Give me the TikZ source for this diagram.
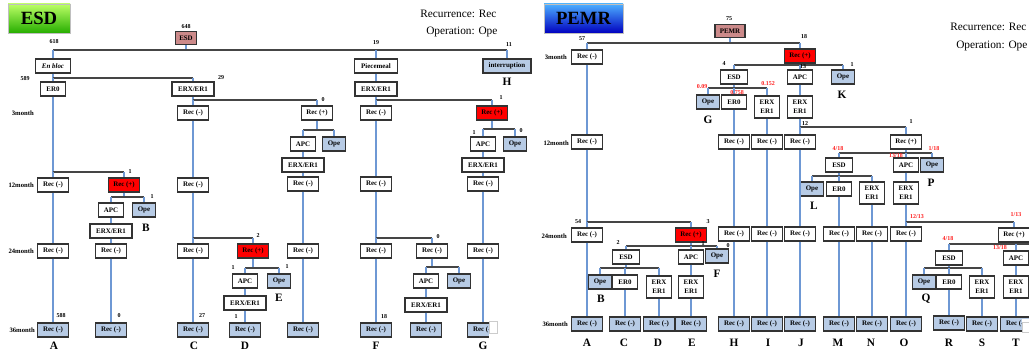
\documentclass[tikz,border=0pt]{standalone}
\usepackage{fontspec}
\setmainfont{Liberation Serif}
\usetikzlibrary{shadows}
\definecolor{hline}{HTML}{454545}
\definecolor{vline}{HTML}{6E98D4}
\definecolor{opeblue}{HTML}{B7CBE5}
\definecolor{pinkbox}{HTML}{CC8A8A}
\definecolor{boxdraw}{HTML}{333333}
\definecolor{numred}{HTML}{FF2020}
\newcommand{\vc}[2]{\draw[vl] (#1.south) -- (#2.north);}
\newcommand{\fk}[4]{\draw[vl] (#1.south) -- (#1 |- 0,#2); \draw[hl] (#3 |- 0,#2) -- (#4 |- 0,#2);}
\newcommand{\dr}[2]{\draw[vl] (#1 |- 0,#2) -- (#1.north);}
\begin{document}
\begin{tikzpicture}[x=0.75pt,y=-0.75pt,
 box/.style={draw=boxdraw, line width=0.8pt, fill=white, font=\bfseries\fontsize{5.2}{6}\selectfont, minimum height=10.5pt, inner xsep=0pt, inner ysep=0pt},
 rec/.style={box, minimum width=23pt},
 recb/.style={rec, fill=opeblue},
 recr/.style={rec, fill=red},
 apc/.style={box, minimum width=19pt},
 ope/.style={box, minimum width=17pt, fill=opeblue},
 erx/.style={box, minimum width=31.5pt},
 ertwo/.style={box, minimum width=19pt, minimum height=16.5pt, align=center, font=\bfseries\fontsize{5.2}{6.5}\selectfont},
 erzero/.style={box, minimum width=19pt},
 esdb/.style={box, minimum width=20pt},
 pinkb/.style={box, fill=pinkbox, minimum width=16pt, minimum height=10pt},
 num/.style={font=\bfseries\fontsize{4.5}{5}\selectfont, inner sep=0pt},
 rnum/.style={num, text=numred},
 lett/.style={font=\bfseries\fontsize{8.5}{9}\selectfont, inner sep=0pt},
 rowlab/.style={font=\bfseries\fontsize{5}{6}\selectfont, anchor=east, inner sep=0pt},
 legend/.style={font=\fontsize{8.5}{10}\selectfont, anchor=west, inner sep=0pt},
 hl/.style={draw=hline, line width=1.1pt},
 vl/.style={draw=vline, line width=0.8pt},
 title/.style={draw=black!25, line width=0.5pt, font=\bfseries\fontsize{14}{14}\selectfont, minimum height=21.75pt, drop shadow={shadow xshift=1pt, shadow yshift=-1pt, opacity=0.35}}
]
\useasboundingbox (0,0) rectangle (1029,352);
\fill[white] (0,0) rectangle (1029,352);

% ================= ESD =================
\node[title, top color=green!25!lime!60!white, bottom color=green!60!black!80!lime, minimum width=46.5pt] (tesd) at (39,18.5) {ESD};
\node[legend] (lrec1) at (420,14) {Recurrence: Rec};
\node[legend] (lope1) at (426,32) {Operation: Ope};

\node[pinkb] (esd) at (186,38) {ESD};
\node[box, minimum width=26pt, font=\bfseries\itshape\fontsize{5.2}{6}\selectfont] (enbloc) at (53,66) {En bloc};
\node[box, minimum width=32pt] (piece) at (376,66) {Piecemeal};
\node[box, minimum width=36pt, fill=opeblue] (intr) at (507,66) {interruption};
\node[erzero] (er0) at (53,89) {ER0};
\node[erx] (erxL) at (193,89) {ERX/ER1};
\node[erx] (erxP) at (376,89) {ERX/ER1};
% 3 month
\node[rec] (c3) at (193,113) {Rec (-)};
\node[rec] (e3) at (317,113) {Rec (+)};
\node[rec] (f3) at (376,113) {Rec (-)};
\node[recr] (g3) at (492,113) {Rec (+)};
\node[apc] (e3apc) at (303,144) {APC};
\node[ope] (e3ope) at (334,144) {Ope};
\node[erx] (e3erx) at (303,165) {ERX/ER1};
\node[apc] (g3apc) at (483,144) {APC};
\node[ope] (g3ope) at (515,144) {Ope};
\node[erx] (g3erx) at (483,165) {ERX/ER1};
% 12 month
\node[rec] (a12) at (53,185) {Rec (-)};
\node[recr] (b12) at (124,185) {Rec (+)};
\node[rec] (c12) at (193,185) {Rec (-)};
\node[rec] (e12) at (303,184) {Rec (-)};
\node[rec] (f12) at (376,184) {Rec (-)};
\node[rec] (g12) at (483,184) {Rec (-)};
\node[apc] (b12apc) at (111,210) {APC};
\node[ope] (b12ope) at (144,210) {Ope};
\node[erx] (b12erx) at (111,231) {ERX/ER1};
% 24 month
\node[rec] (a24) at (53,251) {Rec (-)};
\node[rec] (b24) at (111,251) {Rec (-)};
\node[rec] (c24) at (193,251) {Rec (-)};
\node[recr] (d24) at (253,251) {Rec (+)};
\node[rec] (e24) at (303,251) {Rec (-)};
\node[rec] (f24) at (376,251) {Rec (-)};
\node[rec] (f24b) at (432,251) {Rec (-)};
\node[rec] (g24) at (483,251) {Rec (-)};
\node[apc] (d24apc) at (245,281) {APC};
\node[ope] (d24ope) at (279,281) {Ope};
\node[erx] (d24erx) at (245,303) {ERX/ER1};
\node[apc] (f24apc) at (426,281) {APC};
\node[ope] (f24ope) at (459,281) {Ope};
\node[erx] (f24erx) at (426,305) {ERX/ER1};
% 36 month
\node[recb] (a36) at (53,330) {Rec (-)};
\node[recb] (b36) at (111,330) {Rec (-)};
\node[recb] (c36) at (193,330) {Rec (-)};
\node[recb] (d36) at (245,330) {Rec (-)};
\node[recb] (e36) at (303,330) {Rec (-)};
\node[recb] (f36) at (376,330) {Rec (-)};
\node[recb] (f36b) at (426,330) {Rec (-)};
\node[recb] (g36) at (483,330) {Rec (-)};

% connectors ESD
\fk{esd}{50}{enbloc}{intr} \dr{enbloc}{50} \dr{piece}{50} \dr{intr}{50}
\fk{enbloc}{78}{er0}{erxL} \dr{er0}{78} \dr{erxL}{78}
\vc{piece}{erxP}
\fk{erxL}{100}{c3}{e3} \dr{c3}{100} \dr{e3}{100}
\fk{erxP}{100}{f3}{g3} \dr{f3}{100} \dr{g3}{100}
\fk{e3}{130}{e3apc}{e3ope} \dr{e3apc}{130} \dr{e3ope}{130}
\vc{e3apc}{e3erx} \vc{e3erx}{e12} \vc{e12}{e24} \vc{e24}{e36}
\fk{g3}{129}{g3apc}{g3ope} \dr{g3apc}{129} \dr{g3ope}{129}
\vc{g3apc}{g3erx} \vc{g3erx}{g12} \vc{g12}{g24} \vc{g24}{g36}
\fk{er0}{172}{a12}{b12} \dr{a12}{172} \dr{b12}{172}
\vc{a12}{a24} \vc{a24}{a36}
\fk{b12}{197}{b12apc}{b12ope} \dr{b12apc}{197} \dr{b12ope}{197}
\vc{b12apc}{b12erx} \vc{b12erx}{b24} \vc{b24}{b36}
\vc{c3}{c12}
\fk{c12}{238}{c24}{d24} \dr{c24}{238} \dr{d24}{238}
\vc{c24}{c36}
\fk{d24}{268}{d24apc}{d24ope} \dr{d24apc}{268} \dr{d24ope}{268}
\vc{d24apc}{d24erx} \vc{d24erx}{d36}
\vc{f3}{f12}
\fk{f12}{238}{f24}{f24b} \dr{f24}{238} \dr{f24b}{238}
\vc{f24}{f36}
\fk{f24b}{267}{f24apc}{f24ope} \dr{f24apc}{267} \dr{f24ope}{267}
\vc{f24apc}{f24erx} \vc{f24erx}{f36b}

% row labels ESD
\node[rowlab] (r1) at (34,113) {3month};
\node[rowlab] (r2) at (34,185) {12month};
\node[rowlab] (r3) at (34,251) {24month};
\node[rowlab] (r4) at (35,330) {36month};
% numbers ESD
\node[num] at (186,27) {648};
\node[num] at (54,42) {618};
\node[num] at (376,43) {19};
\node[num] at (509,45) {11};
\node[num] at (25,79) {589};
\node[num] at (221,78) {29};
\node[num] at (323,100) {0};
\node[num] at (501,98) {1};
\node[num] at (130,172) {1};
\node[num] at (152,197) {1};
\node[num] at (474,133) {1};
\node[num] at (521,131) {0};
\node[num] at (258,236) {2};
\node[num] at (438,237) {0};
\node[num] at (233,268) {1};
\node[num] at (287,267) {1};
\node[num] at (61,316) {588};
\node[num] at (119,316) {0};
\node[num] at (202,316) {27};
\node[num] at (236,317) {1};
\node[num] at (384,317) {18};
% letters ESD
\node[lett] at (54,346) {A};
\node[lett] at (146,228) {B};
\node[lett] at (194,346) {C};
\node[lett] at (245,346) {D};
\node[lett] at (279,298) {E};
\node[lett] at (376,346) {F};
\node[lett] at (483,346) {G};
\node[lett] at (507,82) {H};
% artifact
\fill[white] (489,319) rectangle (502,339);
\draw[black!20, fill=white, line width=0.5pt] (489.5,321) rectangle (497,333);

% ================= PEMR =================
\node[title, top color=blue!45!cyan!70!white, bottom color=blue!75!black, minimum width=59.25pt] (tpemr) at (583.5,18.5) {PEMR};
\node[legend] (lrec2) at (950,27) {Recurrence: Rec};
\node[legend] (lope2) at (956,46) {Operation: Ope};

\node[pinkb, minimum width=22.5pt] (pemr) at (730,31) {PEMR};
\node[rec] (pA3) at (587,57) {Rec (-)};
\node[recr] (p3r) at (800,56) {Rec (+)};
\node[esdb] (p3esd) at (734,77) {ESD};
\node[apc] (p3apc) at (800,77) {APC};
\node[ope] (p3ope) at (843,77) {Ope};
\node[ope] (pGope) at (708,102) {Ope};
\node[erzero] (pH0) at (734,102) {ER0};
\node[ertwo] (pIerx) at (767,107) {ERX\\ER1};
\node[ertwo] (pJerx) at (800,107) {ERX\\ER1};
% 12 month
\node[rec] (pA12) at (587,142) {Rec (-)};
\node[rec] (pH12) at (734,142) {Rec (-)};
\node[rec] (pI12) at (767,142) {Rec (-)};
\node[rec] (pJ12) at (800,142) {Rec (-)};
\node[rec] (pR12) at (906,142) {Rec (+)};
\node[esdb] (pPesd) at (839,165) {ESD};
\node[apc] (pPapc) at (906,165) {APC};
\node[ope] (pPope) at (932,165) {Ope};
\node[ope] (pLope) at (812,189) {Ope};
\node[erzero] (pM0) at (839,189) {ER0};
\node[ertwo] (pNerx) at (872,193) {ERX\\ER1};
\node[ertwo] (pOerx) at (906,193) {ERX\\ER1};
% 24 month
\node[rec] (pA24) at (587,235) {Rec (-)};
\node[recr] (pE24) at (691,235) {Rec (+)};
\node[rec] (pH24) at (734,234) {Rec (-)};
\node[rec] (pI24) at (767,234) {Rec (-)};
\node[rec] (pJ24) at (800,234) {Rec (-)};
\node[rec] (pM24) at (839,234) {Rec (-)};
\node[rec] (pN24) at (872,234) {Rec (-)};
\node[rec] (pO24) at (906,234) {Rec (-)};
\node[rec] (pT24) at (1014,235) {Rec (+)};
\node[esdb] (pBesd) at (626,257) {ESD};
\node[apc] (pEapc) at (691,257) {APC};
\node[ope] (pFope) at (717,256) {Ope};
\node[ope] (pBope) at (600,282) {Ope};
\node[erzero] (pC0) at (625,282) {ER0};
\node[ertwo] (pDerx) at (659,287) {ERX\\ER1};
\node[ertwo] (pEerx) at (691,287) {ERX\\ER1};
\node[esdb] (pQesd) at (949,258) {ESD};
\node[apc] (pTapc) at (1016,258) {APC};
\node[ope] (pQope) at (924,282) {Ope};
\node[erzero] (pR0) at (949,282) {ER0};
\node[ertwo] (pSerx) at (982,287) {ERX\\ER1};
\node[ertwo] (pTerx) at (1016,287) {ERX\\ER1};
% 36 month
\node[recb] (pA36) at (587,324) {Rec (-)};
\node[recb] (pC36) at (625,324) {Rec (-)};
\node[recb] (pD36) at (659,324) {Rec (-)};
\node[recb] (pE36) at (691,324) {Rec (-)};
\node[recb] (pH36) at (734,324) {Rec (-)};
\node[recb] (pI36) at (767,324) {Rec (-)};
\node[recb] (pJ36) at (800,324) {Rec (-)};
\node[recb] (pM36) at (839,324) {Rec (-)};
\node[recb] (pN36) at (872,324) {Rec (-)};
\node[recb] (pO36) at (906,324) {Rec (-)};
\node[recb] (pR36) at (949,323) {Rec (-)};
\node[recb] (pS36) at (982,324) {Rec (-)};
\node[recb] (pT36) at (1016,324) {Rec (-)};
\coordinate (edgeR) at (1035,244);

% connectors PEMR
\fk{pemr}{43}{pA3}{p3r} \dr{pA3}{43} \dr{p3r}{43}
\vc{pA3}{pA12}
\fk{pA12}{222}{pA24}{pE24} \dr{pA24}{222} \dr{pE24}{222}
\vc{pA24}{pA36}
\fk{pE24}{246}{pBesd}{pFope} \dr{pBesd}{246} \dr{pEapc}{246} \dr{pFope}{246}
\fk{pBesd}{268}{pBope}{pDerx} \dr{pBope}{268} \dr{pC0}{268} \dr{pDerx}{268}
\vc{pC0}{pC36} \vc{pDerx}{pD36} \vc{pEapc}{pEerx} \vc{pEerx}{pE36}
\fk{p3r}{65}{p3esd}{p3ope} \dr{p3esd}{65} \dr{p3apc}{65} \dr{p3ope}{65}
\fk{p3esd}{88}{pGope}{pIerx} \dr{pGope}{88} \dr{pH0}{88} \dr{pIerx}{88}
\vc{pH0}{pH12} \vc{pH12}{pH24} \vc{pH24}{pH36}
\vc{pIerx}{pI12} \vc{pI12}{pI24} \vc{pI24}{pI36}
\vc{p3apc}{pJerx}
\fk{pJerx}{127}{pJ12}{pR12} \dr{pJ12}{127} \dr{pR12}{127}
\vc{pJ12}{pJ24} \vc{pJ24}{pJ36}
\fk{pR12}{153}{pPesd}{pPope} \dr{pPesd}{153} \dr{pPapc}{153} \dr{pPope}{153}
\fk{pPesd}{176}{pLope}{pNerx} \dr{pLope}{176} \dr{pM0}{176} \dr{pNerx}{176}
\vc{pM0}{pM24} \vc{pM24}{pM36} \vc{pNerx}{pN24} \vc{pN24}{pN36}
\vc{pPapc}{pOerx}
\fk{pOerx}{222}{pO24}{pT24} \dr{pO24}{222} \dr{pT24}{222}
\vc{pO24}{pO36}
\fk{pT24}{244}{pQesd}{edgeR} \dr{pQesd}{244} \dr{pTapc}{244}
\fk{pQesd}{268}{pQope}{pSerx} \dr{pQope}{268} \dr{pR0}{268} \dr{pSerx}{268}
\vc{pR0}{pR36} \vc{pSerx}{pS36} \vc{pTapc}{pTerx} \vc{pTerx}{pT36}

% row labels PEMR
\node[rowlab] (q1) at (567,57) {3month};
\node[rowlab] (q2) at (569,143) {12month};
\node[rowlab] (q3) at (567,236) {24month};
\node[rowlab] (q4) at (568,324) {36month};
% numbers PEMR
\node[num] at (729,19) {75};
\node[num] at (582,39) {57};
\node[num] at (804,37) {18};
\node[num] at (724,64) {4};
\node[num] at (803,67) {13};
\node[num] at (852,65) {1};
\node[rnum] at (702,87) {0.09};
\node[rnum] at (737,93) {0.758};
\node[rnum] at (768,84) {0.152};
\node[num] at (805,124) {12};
\node[num] at (911,122) {1};
\node[rnum] at (838,149) {4/18};
\node[rnum] at (896,156) {13/18};
\node[rnum] at (934,149) {1/18};
\node[rnum] at (917,217) {12/13};
\node[rnum] at (1016,215) {1/13};
\node[rnum] at (948,239) {4/18};
\node[rnum] at (1000,248) {13/18};
\node[num] at (578,222) {54};
\node[num] at (708,222) {3};
\node[num] at (618,243) {2};
\node[num] at (703,244) {1};
\node[num] at (728,246) {0};
% letters PEMR
\node[lett] at (587,343) {A};
\node[lett] at (601,299) {B};
\node[lett] at (624,343) {C};
\node[lett] at (658,343) {D};
\node[lett] at (692,343) {E};
\node[lett] at (717,274) {F};
\node[lett] at (708,120) {G};
\node[lett] at (734,343) {H};
\node[lett] at (768,343) {I};
\node[lett] at (801,343) {J};
\node[lett] at (842,95) {K};
\node[lett] at (814,206) {L};
\node[lett] at (838,343) {M};
\node[lett] at (871,343) {N};
\node[lett] at (904,343) {O};
\node[lett] at (931,183) {P};
\node[lett] at (926,299) {Q};
\node[lett] at (949,343) {R};
\node[lett] at (982,343) {S};
\node[lett] at (1016,343) {T};
% artifact
\fill[white] (1022,319) rectangle (1035,339);
\draw[black!20, fill=white, line width=0.5pt] (1022.5,322) rectangle (1030,332);
\end{tikzpicture}
\end{document}
